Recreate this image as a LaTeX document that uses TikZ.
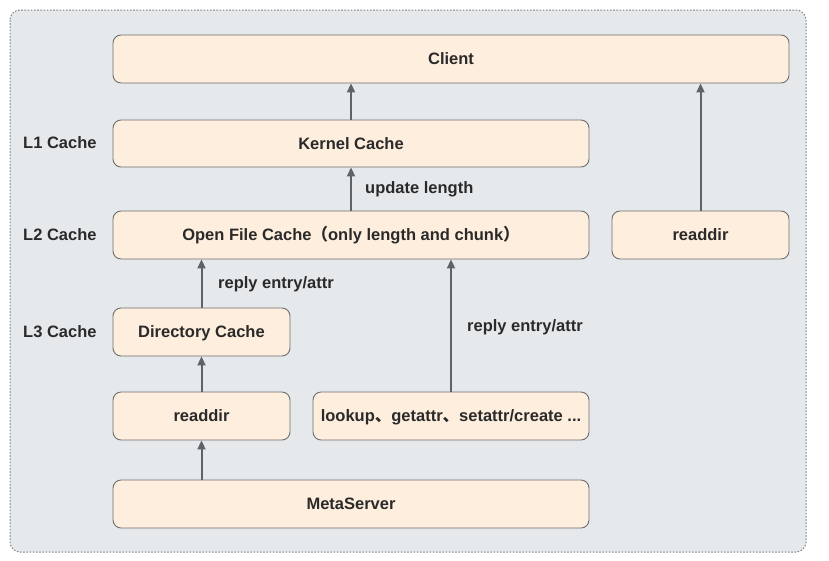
\documentclass[tikz,border=0pt]{standalone}
\usepackage{fontspec}
\setmainfont{Liberation Sans}
\newfontfamily\cjk{Noto Sans CJK SC}
\usetikzlibrary{arrows.meta}
\definecolor{panelgray}{HTML}{E6E9EC}
\definecolor{panelline}{HTML}{7E8286}
\definecolor{boxfill}{HTML}{FEEEDD}
\definecolor{boxline}{HTML}{6E6E6E}
\definecolor{arrowgray}{HTML}{5F6266}
\definecolor{textdark}{HTML}{2A2A2A}
\begin{document}
\begin{tikzpicture}[x=1pt, y=-1pt,
  every node/.style={font=\fontsize{16.5}{19}\selectfont\bfseries, text=textdark,
    text height=11.8pt, text depth=0pt},
  cachebox/.style={draw=boxline, fill=boxfill, line width=0.9pt, rounded corners=8pt,
    minimum height=48pt, inner sep=0pt},
  uparrow/.style={draw=arrowgray, line width=2pt, -{Triangle[length=9pt, width=8pt]}},
  levellabel/.style={anchor=west, inner sep=0pt}]
\useasboundingbox (0,0) rectangle (829,560);
\draw [panelline, fill=panelgray, line width=1pt, dash pattern=on 1.6pt off 1.6pt, rounded corners=10pt] (10,10) rectangle (806,552);
\node [cachebox, minimum width=676pt] (client) at (451,59) {Client};
\node [cachebox, minimum width=476pt, minimum height=47pt] (kernel) at (351,143.5) {Kernel Cache};
\node [cachebox, minimum width=476pt] (openfile) at (351,235) {Open File Cache{\cjk （}only length and chunk{\cjk ）}};
\node [cachebox, minimum width=177pt] (readdirR) at (700.5,235) {readdir};
\node [cachebox, minimum width=177pt] (dircache) at (201.5,332) {Directory Cache};
\node [cachebox, minimum width=177pt] (readdirL) at (201.5,416) {readdir};
\node [cachebox, minimum width=276pt] (lookup) at (451,416) {lookup{\cjk 、}getattr{\cjk 、}setattr/create ...};
\node [cachebox, minimum width=476pt] (meta) at (351,504) {MetaServer};
\node [levellabel] (l1) at (23,143) {L1 Cache};
\node [levellabel] (l2) at (23,235) {L2 Cache};
\node [levellabel] (l3) at (23,332) {L3 Cache};
\draw [uparrow] (kernel.north) -- (client.south -| kernel.north);
\draw [uparrow] (openfile.north) -- (kernel.south);
\draw [uparrow] (readdirR.north) -- (client.south -| readdirR.north);
\draw [uparrow] (dircache.north) -- (openfile.south -| dircache.north);
\draw [uparrow] (readdirL.north) -- (dircache.south);
\draw [uparrow] (meta.north -| readdirL.south) -- (readdirL.south);
\draw [uparrow] (lookup.north) -- (openfile.south -| lookup.north);
\node [levellabel] (updlen) at (365,188) {update length};
\node [levellabel] (replyL) at (218,283) {reply entry/attr};
\node [levellabel] (replyR) at (467,326) {reply entry/attr};
\end{tikzpicture}
\end{document}
